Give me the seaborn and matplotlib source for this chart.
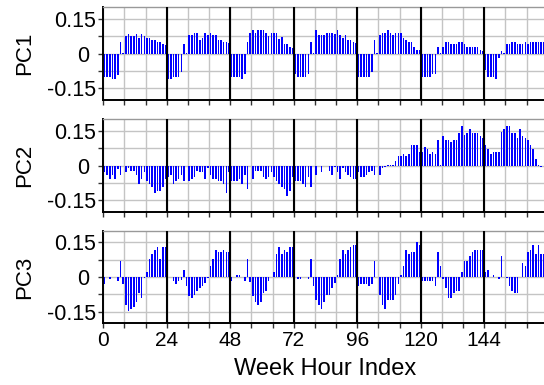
import numpy as np
import pandas as pd
import matplotlib
matplotlib.use("Agg")
import matplotlib.pyplot as plt
import seaborn as sns

# ---- data: loadings for each week hour (0..167), one row per day ----
pc1 = [
    -0.101, -0.101, -0.101, -0.110, -0.110, -0.091, 0.050, 0.004, 0.075, 0.085, 0.075, 0.075, 0.085, 0.068, 0.085, 0.075, 0.068, 0.068, 0.060, 0.060, 0.050, 0.050, 0.039, 0.035,
    -0.110, -0.110, -0.100, -0.100, -0.100, -0.080, 0.039, 0.004, 0.078, 0.078, 0.089, 0.089, 0.058, 0.068, 0.089, 0.078, 0.089, 0.078, 0.078, 0.058, 0.058, 0.049, 0.049, 0.045,
    -0.100, -0.100, -0.100, -0.100, -0.110, -0.090, 0.050, 0.087, 0.100, 0.087, 0.100, 0.100, 0.100, 0.087, 0.077, 0.087, 0.087, 0.087, 0.062, 0.069, 0.039, 0.039, 0.027, 0.025,
    -0.090, -0.100, -0.100, -0.100, -0.100, -0.090, 0.049, 0.004, 0.100, 0.078, 0.078, 0.078, 0.089, 0.089, 0.089, 0.085, 0.100, 0.078, 0.068, 0.078, 0.058, 0.058, 0.049, 0.045,
    -0.100, -0.100, -0.100, -0.100, -0.100, -0.080, 0.058, 0.004, 0.078, 0.089, 0.089, 0.100, 0.089, 0.078, 0.089, 0.089, 0.089, 0.068, 0.058, 0.049, 0.049, 0.028, 0.017, 0.015,
    -0.100, -0.100, -0.100, -0.100, -0.090, -0.090, 0.028, 0.004, 0.028, 0.049, 0.049, 0.039, 0.039, 0.039, 0.049, 0.049, 0.039, 0.028, 0.028, 0.028, 0.028, 0.028, 0.017, 0.010,
    -0.070, -0.100, -0.100, -0.100, -0.110, -0.020, 0.010, 0.004, 0.039, 0.039, 0.049, 0.049, 0.039, 0.039, 0.039, 0.049, 0.039, 0.049, 0.049, 0.049, 0.049, 0.049, 0.049, 0.049,
]
pc2 = [
    -0.030, -0.040, -0.059, -0.040, -0.059, -0.015, -0.040, -0.004, -0.030, -0.012, -0.022, -0.022, -0.040, -0.078, -0.059, -0.030, -0.069, -0.078, -0.091, -0.120, -0.110, -0.110, -0.091, -0.060,
    -0.049, -0.040, -0.078, -0.069, -0.059, -0.040, -0.069, -0.004, -0.069, -0.059, -0.049, -0.022, -0.030, -0.030, -0.059, -0.010, -0.040, -0.059, -0.059, -0.069, -0.069, -0.078, -0.120, -0.030,
    -0.069, -0.069, -0.069, -0.059, -0.078, -0.040, -0.100, -0.004, -0.059, -0.022, -0.022, -0.022, -0.049, -0.059, -0.049, -0.030, -0.049, -0.069, -0.078, -0.091, -0.100, -0.130, -0.110, -0.050,
    -0.069, -0.069, -0.069, -0.078, -0.091, -0.049, -0.091, -0.004, -0.040, -0.002, -0.030, -0.002, -0.004, -0.022, -0.040, -0.005, -0.030, -0.059, -0.012, -0.030, -0.040, -0.049, -0.059, -0.060,
    -0.030, -0.049, -0.049, -0.040, -0.030, -0.022, -0.040, -0.004, -0.040, -0.012, -0.008, 0.002, 0.002, 0.002, 0.020, 0.039, 0.039, 0.049, 0.039, 0.049, 0.089, 0.089, 0.089, 0.060,
    0.060, 0.079, 0.070, 0.049, 0.060, 0.049, 0.110, 0.004, 0.128, 0.110, 0.110, 0.100, 0.110, 0.110, 0.140, 0.170, 0.130, 0.140, 0.159, 0.140, 0.140, 0.140, 0.128, 0.118,
    0.089, 0.070, 0.050, 0.060, 0.060, 0.060, 0.147, 0.160, 0.170, 0.170, 0.140, 0.140, 0.118, 0.160, 0.128, 0.120, 0.110, 0.089, 0.070, 0.029, 0.002, -0.005, -0.002, 0.000,
]
pc3 = [
    -0.029, 0.000, -0.009, 0.000, 0.000, -0.019, 0.071, -0.030, -0.120, -0.149, -0.140, -0.130, -0.108, -0.070, -0.092, -0.005, 0.020, 0.078, 0.100, 0.118, 0.130, 0.078, 0.130, 0.130,
    0.000, 0.000, -0.019, -0.029, -0.019, -0.012, 0.029, -0.040, -0.084, -0.092, -0.076, -0.059, -0.048, -0.040, -0.026, -0.005, 0.049, 0.078, 0.118, 0.110, 0.110, 0.118, 0.110, 0.110,
    -0.019, 0.000, 0.010, 0.010, 0.000, -0.019, 0.078, -0.020, -0.080, -0.108, -0.120, -0.108, -0.070, -0.059, -0.019, 0.000, 0.020, 0.100, 0.130, 0.100, 0.118, 0.110, 0.130, 0.130,
    0.000, -0.009, -0.009, 0.000, 0.000, -0.009, 0.078, -0.040, -0.098, -0.120, -0.138, -0.108, -0.076, -0.076, -0.048, -0.026, 0.010, 0.078, 0.118, 0.100, 0.118, 0.130, 0.140, 0.140,
    -0.037, -0.029, -0.029, -0.029, -0.037, -0.029, 0.071, 0.000, -0.076, -0.120, -0.138, -0.098, -0.098, -0.098, -0.076, -0.029, 0.010, 0.049, 0.118, 0.100, 0.110, 0.110, 0.150, 0.140,
    -0.019, -0.019, -0.019, -0.019, -0.019, -0.037, 0.110, 0.049, -0.009, -0.048, -0.090, -0.090, -0.070, -0.059, -0.059, 0.020, 0.071, 0.071, 0.090, 0.110, 0.118, 0.118, 0.118, 0.118,
    0.020, 0.029, 0.000, 0.010, 0.000, -0.009, 0.092, 0.000, -0.005, -0.040, -0.059, -0.070, -0.070, 0.000, 0.060, 0.049, 0.110, 0.118, 0.140, 0.100, 0.140, 0.100, 0.100, 0.100,
]
components = ["PC1", "PC2", "PC3"]
x_major_ticks = [0, 24, 48, 72, 96, 120, 144, 168]
x_tick_labels = ["0", "24", "48", "72", "96", "120", "144", ""]
y_major_ticks = [-0.15, 0.0, 0.15]
y_tick_labels = ["-0.15", "0 ", "0.15"]
x_label = "Week Hour Index"

hours = np.arange(len(pc1))
df = pd.DataFrame({"hour": hours, "PC1": pc1, "PC2": pc2, "PC3": pc3})
df["pos"] = df["hour"] + 0.5   # each bar occupies its hour slot

sns.set_style("white")
plt.rcParams["font.family"] = ["Liberation Sans", "DejaVu Sans"]
plt.rcParams["text.color"] = "black"
plt.rcParams["axes.labelcolor"] = "black"
plt.rcParams["xtick.color"] = "black"
plt.rcParams["ytick.color"] = "black"

fig = plt.figure(figsize=(5.44, 3.85), dpi=100)
W, H = 544.0, 385.0
left_px, right_px = 103.3, 547.8
panels_px = [(7.0, 100.0), (119.3, 211.7), (230.7, 323.3)]

grid_col = "#c4c4c4"
for i, (comp, (top, bot)) in enumerate(zip(components, panels_px)):
    ax = fig.add_axes([left_px / W, 1 - bot / H, (right_px - left_px) / W, (bot - top) / H])
    ax.set_axisbelow(True)
    sns.barplot(data=df, x="pos", y=comp, native_scale=True, orient="x",
                color="#0000ff", saturation=1, width=0.6, errorbar=None,
                linewidth=0, ax=ax, zorder=2)
    ax.set_xlim(0, 168)
    ax.set_ylim(-0.2, 0.2)
    ax.set_xticks(x_major_ticks)
    ax.set_xticks(np.arange(0, 169, 8), minor=True)
    ax.set_yticks(y_major_ticks)
    ax.set_yticks([-0.075, 0.075], minor=True)
    ax.set_yticklabels(y_tick_labels, fontsize=15.5, color="black")
    if i == 2:
        ax.set_xticklabels(x_tick_labels, fontsize=15, color="black")
        ax.set_xlabel(x_label, fontsize=17, labelpad=6, color="black")
    else:
        ax.set_xticklabels([])
        ax.set_xlabel("")
    ax.set_ylabel(comp, fontsize=16, labelpad=8, color="black")
    ax.grid(True, which="both", axis="both", color=grid_col, linewidth=1.0, zorder=0)
    for xv in x_major_ticks[1:-1]:
        ax.axvline(xv, color="black", linewidth=1.5, zorder=3)
    ax.tick_params(axis="both", which="both", direction="out", length=3.5, width=1.0,
                   color="#333333", pad=2, left=True, bottom=True)
    for s in ["left", "bottom"]:
        ax.spines[s].set_color("black")
        ax.spines[s].set_linewidth(1.4)
    ax.spines["top"].set_color("#999999")
    ax.spines["top"].set_linewidth(1.0)
    ax.spines["right"].set_visible(False)

fig.savefig("out.png", dpi=100)
